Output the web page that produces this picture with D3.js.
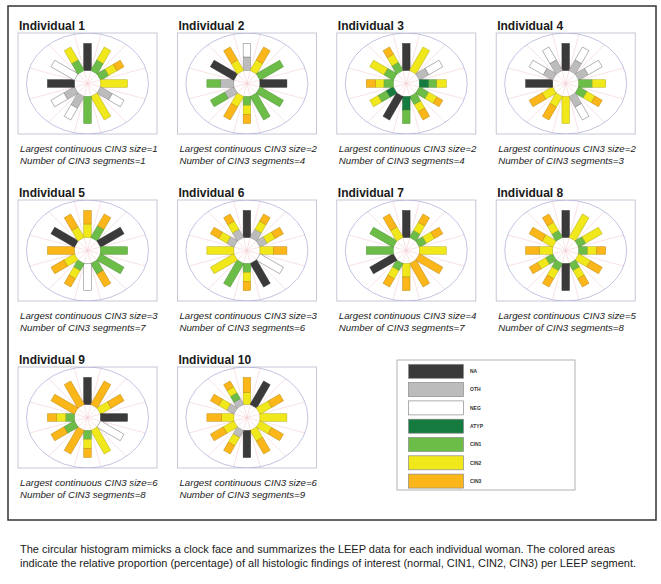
<!DOCTYPE html>
<html><head><meta charset="utf-8">
<script src="https://cdn.jsdelivr.net/npm/d3@7"></script>
<style>body{margin:0;background:#fff}svg{display:block}</style>
</head><body><svg id="c" width="661" height="584"></svg>
<script>
// ---------- data ----------
const categories = ["NA", "OTH", "NEG", "ATYP", "CIN1", "CIN2", "CIN3"];
const categoryColors = ["#3a3a3a", "#bcbcbc", "#ffffff", "#167b3e", "#6bbd47", "#f1e81c", "#fbb71a"];
const clockHours = [12, 1, 2, 3, 4, 5, 6, 7, 8, 9, 10, 11];
const individuals = ["Individual 1", "Individual 2", "Individual 3", "Individual 4", "Individual 5",
  "Individual 6", "Individual 7", "Individual 8", "Individual 9", "Individual 10"];
const largestCIN3 = [1, 2, 2, 2, 3, 3, 4, 5, 6, 6];
const cin3Segments = [1, 4, 4, 3, 7, 6, 7, 8, 8, 9];
// each bar (clock hour 12,1,...,11): segments from inner to outer, [category, percent]
const ind1 = [[["NA",100]], [["CIN1",45],["CIN2",55]], [["CIN1",35],["CIN2",35],["CIN3",30]], [["CIN2",100]],
  [["OTH",50],["NEG",50]], [["CIN2",100]], [["CIN1",100]], [["OTH",50],["NEG",50]],
  [["OTH",45],["NEG",55]], [["NA",100]], [["NEG",100]], [["CIN1",45],["CIN2",55]]];
const ind2 = [[["OTH",50],["NEG",50]], [["CIN2",45],["CIN3",55]], [["CIN1",100]], [["NA",100]],
  [["CIN1",100]], [["CIN1",100]], [["CIN1",33],["CIN2",34],["CIN3",33]], [["CIN2",45],["CIN3",55]],
  [["OTH",40],["CIN1",60]], [["OTH",50],["CIN1",50]], [["NA",100]], [["CIN2",45],["CIN3",55]]];
const ind3 = [[["NA",100]], [["CIN2",100]], [["OTH",40],["NEG",60]], [["ATYP",35],["CIN1",30],["CIN2",35]],
  [["CIN1",40],["CIN2",35],["CIN3",25]], [["CIN1",35],["CIN2",30],["CIN3",35]], [["ATYP",50],["CIN1",50]], [["NA",100]],
  [["ATYP",30],["CIN1",35],["CIN2",35]], [["CIN1",35],["CIN2",30],["CIN3",35]], [["CIN1",40],["CIN2",60]], [["CIN1",35],["CIN2",35],["CIN3",30]]];
const ind4 = [[["NA",100]], [["OTH",45],["NEG",55]], [["OTH",40],["NEG",60]], [["CIN1",50],["CIN2",50]],
  [["CIN1",35],["CIN2",35],["CIN3",30]], [["OTH",45],["NEG",55]], [["CIN2",100]], [["CIN2",45],["CIN3",55]],
  [["CIN2",45],["CIN3",55]], [["NA",100]], [["OTH",40],["NEG",60]], [["OTH",45],["NEG",55]]];
const ind5 = [[["CIN2",50],["CIN3",50]], [["CIN1",50],["CIN3",50]], [["NA",100]], [["CIN1",100]],
  [["CIN1",100]], [["CIN1",45],["CIN3",55]], [["NEG",100]], [["CIN1",30],["CIN2",35],["CIN3",35]],
  [["CIN2",45],["CIN3",55]], [["CIN3",100]], [["NA",100]], [["CIN2",45],["CIN3",55]]];
const ind6 = [[["NA",100]], [["OTH",35],["CIN2",35],["CIN3",30]], [["OTH",30],["CIN2",35],["CIN3",35]], [["CIN2",50],["CIN3",50]],
  [["NEG",100]], [["NA",100]], [["CIN1",33],["CIN2",34],["CIN3",33]], [["CIN1",100]],
  [["CIN2",100]], [["CIN2",100]], [["OTH",30],["CIN2",35],["CIN3",35]], [["OTH",35],["CIN2",35],["CIN3",30]]];
const ind7 = [[["NA",100]], [["CIN1",30],["CIN2",35],["CIN3",35]], [["CIN1",30],["CIN2",35],["CIN3",35]], [["CIN2",100]],
  [["CIN3",100]], [["CIN3",100]], [["CIN2",50],["CIN3",50]], [["CIN1",30],["CIN2",35],["CIN3",35]],
  [["NA",100]], [["CIN1",100]], [["CIN1",100]], [["CIN2",45],["CIN3",55]]];
const ind8 = [[["NA",100]], [["CIN2",100]], [["CIN1",30],["CIN2",70]], [["CIN1",33],["CIN2",34],["CIN3",33]],
  [["CIN2",50],["CIN3",50]], [["CIN1",30],["CIN2",35],["CIN3",35]], [["NA",100]], [["CIN1",30],["CIN2",35],["CIN3",35]],
  [["CIN1",30],["CIN2",35],["CIN3",35]], [["CIN2",50],["CIN3",50]], [["CIN2",45],["CIN3",55]], [["CIN1",30],["CIN2",35],["CIN3",35]]];
const ind9 = [[["NA",100]], [["CIN3",100]], [["CIN2",45],["CIN3",55]], [["NA",100]],
  [["NEG",100]], [["CIN2",100]], [["CIN1",33],["CIN2",34],["CIN3",33]], [["CIN3",100]],
  [["CIN1",45],["CIN3",55]], [["CIN1",33],["CIN2",34],["CIN3",33]], [["CIN3",100]], [["CIN3",100]]];
const ind10 = [[["CIN2",45],["CIN3",55]], [["NA",100]], [["CIN2",50],["CIN3",50]], [["CIN2",100]],
  [["CIN2",50],["CIN3",50]], [["CIN2",45],["CIN3",55]], [["NA",100]], [["OTH",30],["CIN2",35],["CIN3",35]],
  [["CIN2",45],["CIN3",55]], [["CIN2",45],["CIN3",55]], [["OTH",30],["CIN2",35],["CIN3",35]], [["OTH",25],["CIN1",25],["CIN2",25],["CIN3",25]]];
const panelData = [ind1, ind2, ind3, ind4, ind5, ind6, ind7, ind8, ind9, ind10];
const captionLines = [
  "The circular histogram mimicks a clock face and summarizes the LEEP data for each individual woman. The colored areas",
  "indicate the relative proportion (percentage) of all histologic findings of interest (normal, CIN1, CIN2, CIN3) per LEEP segment."
];

// ---------- drawing ----------
const svg = d3.select("#c");
const color = d3.scaleOrdinal().domain(categories).range(categoryColors);
const angle = d3.scaleLinear().domain([0, 12]).range([0, 360]);
const radius = d3.scaleLinear().domain([0, 100]).range([13, 40]);
const FONT = "'Liberation Sans', Arial, Helvetica, sans-serif";

// outer frame
svg.append("rect").attr("x", 8).attr("y", 6).attr("width", 648).attr("height", 514)
  .attr("fill", "none").attr("stroke", "#333").attr("stroke-width", 1.5);

const boxW = 139, boxH = 101, barW = 7.5;
panelData.forEach((bars, i) => {
  const col = i % 4, row = Math.floor(i / 4);
  const bx = 18 + col * 159.4, by = 33 + row * 167;
  const cx = bx + boxW / 2, cy = by + boxH / 2;
  const g = svg.append("g");
  g.append("text").attr("x", bx + 1).attr("y", by - 3.5).text(individuals[i])
    .attr("font-family", FONT).attr("font-weight", "bold").attr("font-size", 12).attr("fill", "#1a1a1a");
  const clipId = "clip" + i;
  g.append("clipPath").attr("id", clipId).append("rect")
    .attr("x", bx).attr("y", by).attr("width", boxW).attr("height", boxH);
  g.append("rect").attr("x", bx).attr("y", by).attr("width", boxW).attr("height", boxH)
    .attr("fill", "#fff").attr("stroke", "#b9b9cc").attr("stroke-width", 0.8);
  const inner = g.append("g").attr("clip-path", `url(#${clipId})`);
  // spokes between clock hours
  clockHours.forEach((h, k) => {
    const a = (angle(k + 0.5) - 90) * Math.PI / 180;
    const rx = 61, ry = 50.5;
    const t = 1 / Math.sqrt(Math.pow(Math.cos(a) / rx, 2) + Math.pow(Math.sin(a) / ry, 2));
    inner.append("line").attr("x1", cx).attr("y1", cy)
      .attr("x2", cx + t * Math.cos(a)).attr("y2", cy + t * Math.sin(a))
      .attr("stroke", "#f2c4c8").attr("stroke-width", 0.5);
  });
  inner.append("ellipse").attr("cx", cx).attr("cy", cy).attr("rx", 61).attr("ry", 50.5)
    .attr("fill", "none").attr("stroke", "#a9a9d6").attr("stroke-width", 0.7);
  // bars
  bars.forEach((segs, k) => {
    const bg = inner.append("g").attr("transform", `translate(${cx},${cy}) rotate(${angle(k)})`);
    let acc = 0;
    segs.forEach(([cat, v]) => {
      const r0 = radius(acc), r1 = radius(acc + v);
      bg.append("rect").attr("x", -barW / 2).attr("y", -r1).attr("width", barW).attr("height", r1 - r0)
        .attr("fill", color(cat)).attr("stroke", cat === "NEG" ? "#777" : d3.color(color(cat)).darker(0.8))
        .attr("stroke-width", 0.5);
      acc += v;
    });
  });
  g.append("text").attr("x", bx + 2).attr("y", by + 118.5)
    .text(`Largest continuous CIN3 size=${largestCIN3[i]}`)
    .attr("font-family", FONT).attr("font-style", "italic").attr("font-size", 9.7).attr("fill", "#222");
  g.append("text").attr("x", bx + 2).attr("y", by + 131)
    .text(`Number of CIN3 segments=${cin3Segments[i]}`)
    .attr("font-family", FONT).attr("font-style", "italic").attr("font-size", 9.7).attr("fill", "#222");
});

// legend
const lg = svg.append("g");
lg.append("rect").attr("x", 397).attr("y", 360).attr("width", 178).attr("height", 130)
  .attr("fill", "#fff").attr("stroke", "#a0a0a0").attr("stroke-width", 0.8);
categories.forEach((c, k) => {
  const y = 364.3 + k * 18.3;
  lg.append("rect").attr("x", 408.5).attr("y", y).attr("width", 55).attr("height", 14)
    .attr("fill", color(c)).attr("stroke", "#8a8a8a").attr("stroke-width", 0.7);
  lg.append("text").attr("x", 470).attr("y", y + 8.8).text(c)
    .attr("font-family", FONT).attr("font-weight", "bold").attr("font-size", 5).attr("fill", "#333");
});

// caption
captionLines.forEach((t, k) => {
  svg.append("text").attr("x", 20).attr("y", 553 + k * 14).text(t)
    .attr("font-family", FONT).attr("font-size", 11).attr("fill", "#1a1a1a");
});
</script></body></html>
